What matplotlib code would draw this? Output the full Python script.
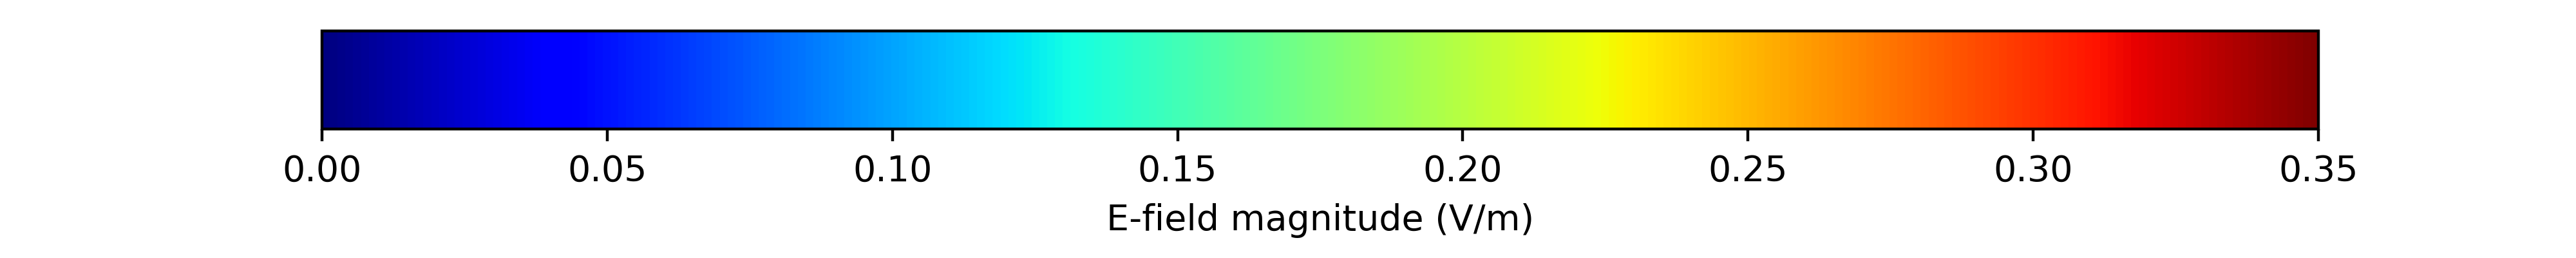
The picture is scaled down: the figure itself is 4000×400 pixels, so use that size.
import matplotlib
matplotlib.use('agg')
import numpy as np
import matplotlib.pyplot as plt
from matplotlib import cm, colors

# colorbar range and ticks
vmin = 0.0
vmax = 0.35
ticks = [0.00, 0.05, 0.10, 0.15, 0.20, 0.25, 0.30, 0.35]
label = 'E-field magnitude (V/m)'

fig = plt.figure(figsize=(10, 1), dpi=400)
cax = fig.add_axes([0.125, 0.5, 0.775, 0.38])

norm = colors.Normalize(vmin=vmin, vmax=vmax)
sm = cm.ScalarMappable(norm=norm, cmap='jet')
cb = fig.colorbar(sm, cax=cax, orientation='horizontal')
cb.set_ticks(ticks)
cb.set_ticklabels(['%.2f' % t for t in ticks])
cb.set_label(label)

fig.savefig('out.png', dpi=400)
